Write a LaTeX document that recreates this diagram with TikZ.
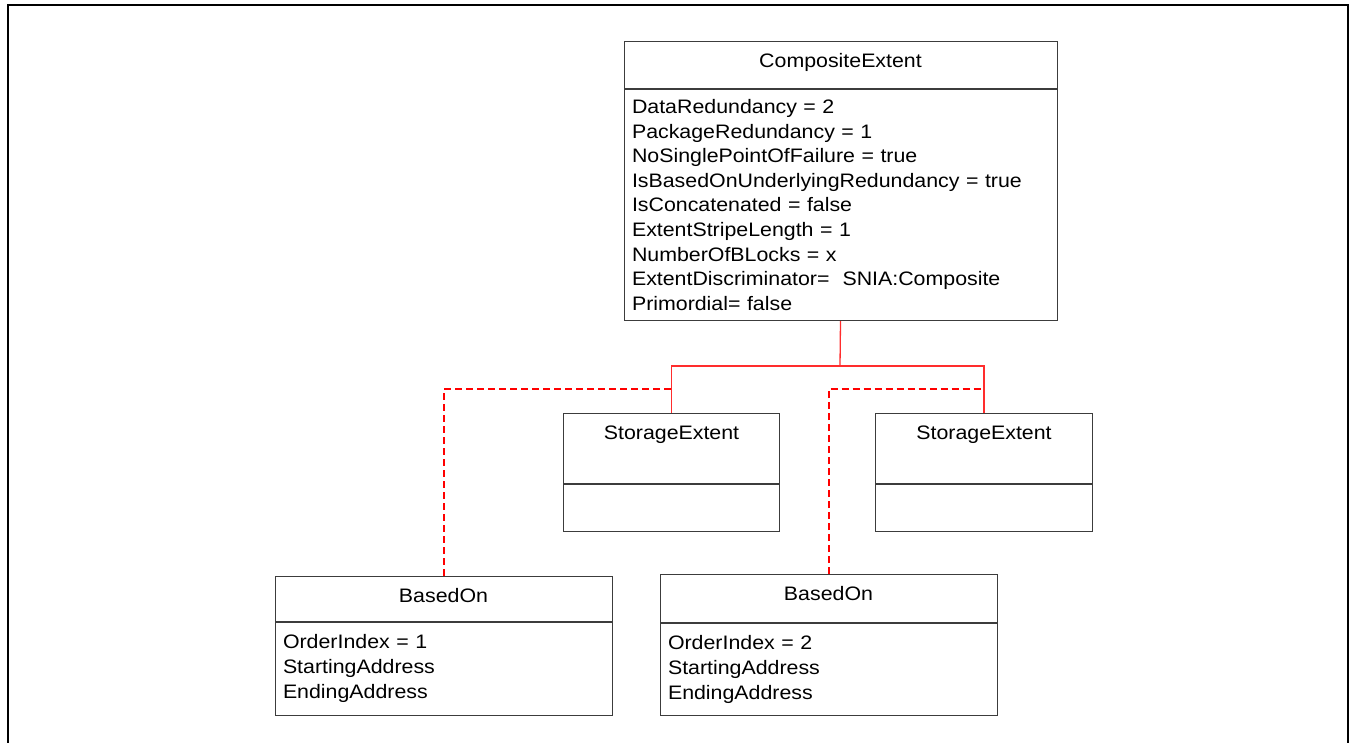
\documentclass[tikz,border=0pt]{standalone}
\usepackage{fontspec}
\setmainfont[FakeStretch=1.095]{Liberation Sans}
\usetikzlibrary{positioning}
\definecolor{linkred}{RGB}{255,45,45}
\definecolor{boxgray}{RGB}{60,60,60}
\tikzstyle{classhead}=[draw=boxgray, line width=1pt, inner xsep=0pt, inner ysep=12pt, text height=14pt, anchor=north west, font=\fontsize{19.5}{24.6}\selectfont]
\tikzstyle{classattr}=[draw=boxgray, line width=1pt, inner xsep=8pt, inner ysep=0pt, align=left, anchor=north west, font=\fontsize{19.5}{24.6}\selectfont]
\tikzstyle{assoc}=[draw=linkred, line width=1.3pt]
\tikzstyle{basedlink}=[draw=red, line width=2pt, dash pattern=on 7pt off 4pt]
\newcommand{\classhead}{\node[classhead]}
\newcommand{\classattr}{\node[classattr]}

\begin{document}
\begin{tikzpicture}[x=1pt,y=-1pt]
\useasboundingbox (0,0) rectangle (1354,742);
\draw[line width=2pt] (7.5,745) -- (7.5,5.2) -- (1347.5,5.2) -- (1347.5,745);

\classhead[minimum width=433pt, text depth=9pt] (comp) at (623.5,41) {CompositeExtent};
\classattr[text width=417pt, minimum height=231pt] (compattr) at (comp.south west) {DataRedundancy = 2\\
    PackageRedundancy = 1\\
    NoSinglePointOfFailure = true\\
    IsBasedOnUnderlyingRedundancy = true\\
    IsConcatenated = false\\
    ExtentStripeLength = 1\\
    NumberOfBLocks = x\\
    ExtentDiscriminator=\ \ SNIA:Composite\\
    Primordial=\ false};

\classhead[minimum width=216pt, text depth=32pt] (stor1) at (563,413) {StorageExtent};
\classattr[text width=200pt, minimum height=47pt] (stor1attr) at (stor1.south west) {};
\classhead[minimum width=217pt, text depth=32pt] (stor2) at (875,413) {StorageExtent};
\classattr[text width=201pt, minimum height=47pt] (stor2attr) at (stor2.south west) {};

\classhead[minimum width=337pt, text depth=7pt] (based1) at (274.5,575.5) {BasedOn};
\classattr[text width=321pt, minimum height=93pt] (based1attr) at (based1.south west) {OrderIndex = 1\\
    StartingAddress\\
    EndingAddress};
\classhead[minimum width=337pt, text depth=10pt] (based2) at (659.5,574) {BasedOn};
\classattr[text width=321pt, minimum height=92pt] (based2attr) at (based2.south west) {OrderIndex = 2\\
    StartingAddress\\
    EndingAddress};

\coordinate (fork) at (840,366);
\coordinate (join1) at (671,389);
\coordinate (join2) at (983.5,389);

% aggregation of the two extents
\draw[assoc] (compattr.south) -- (fork);
\draw[assoc] (fork) -| (stor1.north);
\draw[assoc] (fork) -| (stor2.north);

% BasedOn association classes
\draw[basedlink] (based1.north) |- (join1);
\draw[basedlink] (based2.north) |- (join2);
\end{tikzpicture}
\end{document}
